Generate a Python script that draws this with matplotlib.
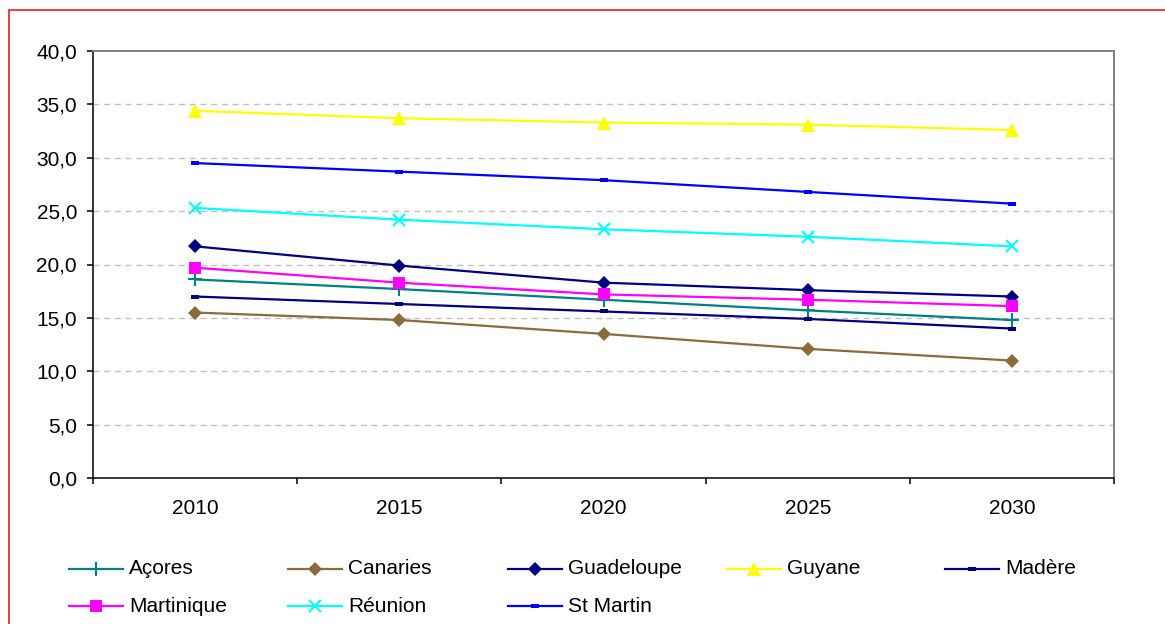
import matplotlib
matplotlib.use("Agg")
import matplotlib.pyplot as plt
from matplotlib.lines import Line2D
from matplotlib.patches import Rectangle
from matplotlib.path import Path

plt.rcParams["font.family"] = ["Liberation Sans", "DejaVu Sans"]

years = ["2010", "2015", "2020", "2025", "2030"]

acores = [18.6, 17.7, 16.7, 15.7, 14.8]
canaries = [15.5, 14.8, 13.5, 12.1, 11.0]
guadeloupe = [21.7, 19.9, 18.3, 17.6, 17.0]
guyane = [34.4, 33.7, 33.3, 33.1, 32.6]
madere = [17.0, 16.3, 15.6, 14.9, 14.0]
martinique = [19.7, 18.3, 17.2, 16.7, 16.1]
reunion = [25.3, 24.2, 23.3, 22.6, 21.7]
st_martin = [29.5, 28.7, 27.9, 26.8, 25.7]

names = ["Açores", "Canaries", "Guadeloupe", "Guyane", "Madère",
         "Martinique", "Réunion", "St Martin"]
series = [acores, canaries, guadeloupe, guyane, madere,
          martinique, reunion, st_martin]

y_ticks = [0, 5, 10, 15, 20, 25, 30, 35, 40]

# small flat bar used as the "dash" marker
dash = Path([(-1, -0.4), (1, -0.4), (1, 0.4), (-1, 0.4), (-1, -0.4)],
            [Path.MOVETO, Path.LINETO, Path.LINETO, Path.LINETO, Path.CLOSEPOLY])

styles = [
    dict(color="#008080", marker="+", ms=10, mew=1.5),
    dict(color="#8B6B3A", marker="D", ms=7.5, mew=0),
    dict(color="#000080", marker="D", ms=7.5, mew=0),
    dict(color="#FFFF00", marker="^", ms=10, mew=0),
    dict(color="#000080", marker=dash, ms=5.5, mew=0),
    dict(color="#FF00FF", marker="s", ms=8.5, mew=0),
    dict(color="#00FFFF", marker="x", ms=9, mew=1.5),
    dict(color="#0000FF", marker=dash, ms=5.5, mew=0),
]

W, H = 1165, 624
fig = plt.figure(figsize=(W / 100, H / 100), dpi=100)
ax = fig.add_axes([93 / W, 1 - 478 / H, (1114 - 93) / W, (478 - 51) / H])

x = list(range(len(years)))
for vals, st in zip(series, styles):
    ax.plot(x, vals, color=st["color"], lw=1.6, marker=st["marker"],
            markersize=st["ms"], markeredgewidth=st["mew"],
            markerfacecolor=st["color"], markeredgecolor=st["color"],
            clip_on=False, zorder=3)

ax.set_xlim(-0.5, len(years) - 0.5)
ax.set_ylim(0, 40)

# category boundaries carry the tick marks, labels sit at the centres
ax.set_xticks([i - 0.5 for i in range(len(years) + 1)])
ax.set_xticklabels([])
ax.set_xticks(x, minor=True)
ax.set_xticklabels(years, minor=True)
ax.tick_params(axis="x", which="major", direction="out", length=4.5,
               width=1.1, color="black")
ax.tick_params(axis="x", which="minor", length=0, pad=15, labelsize=15)

ax.set_yticks(y_ticks)
ax.set_yticklabels([f"{v:.1f}".replace(".", ",") for v in y_ticks])
ax.tick_params(axis="y", direction="out", length=4.5, width=1.1,
               color="black", pad=7, labelsize=15)

for v in y_ticks[1:-1]:
    ax.axhline(v, color="#C0C0C0", lw=1.0, linestyle=(0, (4.3, 3.4)), zorder=1)

for side in ("left", "bottom"):
    ax.spines[side].set_color("black")
    ax.spines[side].set_linewidth(1.1)
for side in ("top", "right"):
    ax.spines[side].set_color("#808080")
    ax.spines[side].set_linewidth(1.4)

# legend laid out in a fixed grid, row by row
col_x = [69, 288, 508, 727, 945]
row_y = [569, 606]
handle_len = 54
for i, (name, st) in enumerate(zip(names, styles)):
    r, c = divmod(i, 5)
    x0 = col_x[c]
    yy = 1 - row_y[r] / H
    fig.add_artist(Line2D([x0 / W, (x0 + handle_len) / W], [yy, yy],
                          color=st["color"], lw=1.6))
    fig.add_artist(Line2D([(x0 + handle_len / 2) / W], [yy],
                          color=st["color"], marker=st["marker"],
                          markersize=st["ms"], markeredgewidth=st["mew"],
                          markerfacecolor=st["color"],
                          markeredgecolor=st["color"], lw=0))
    fig.text((x0 + handle_len + 6) / W, yy, name, fontsize=15,
             va="center", ha="left")

# outer frame
fig.add_artist(Rectangle((9 / W, -0.1), 2.0, 1.1 - 10 / H, fill=False,
                         edgecolor="#E02020", lw=1.2,
                         transform=fig.transFigure))

fig.savefig("out.png", dpi=100)
